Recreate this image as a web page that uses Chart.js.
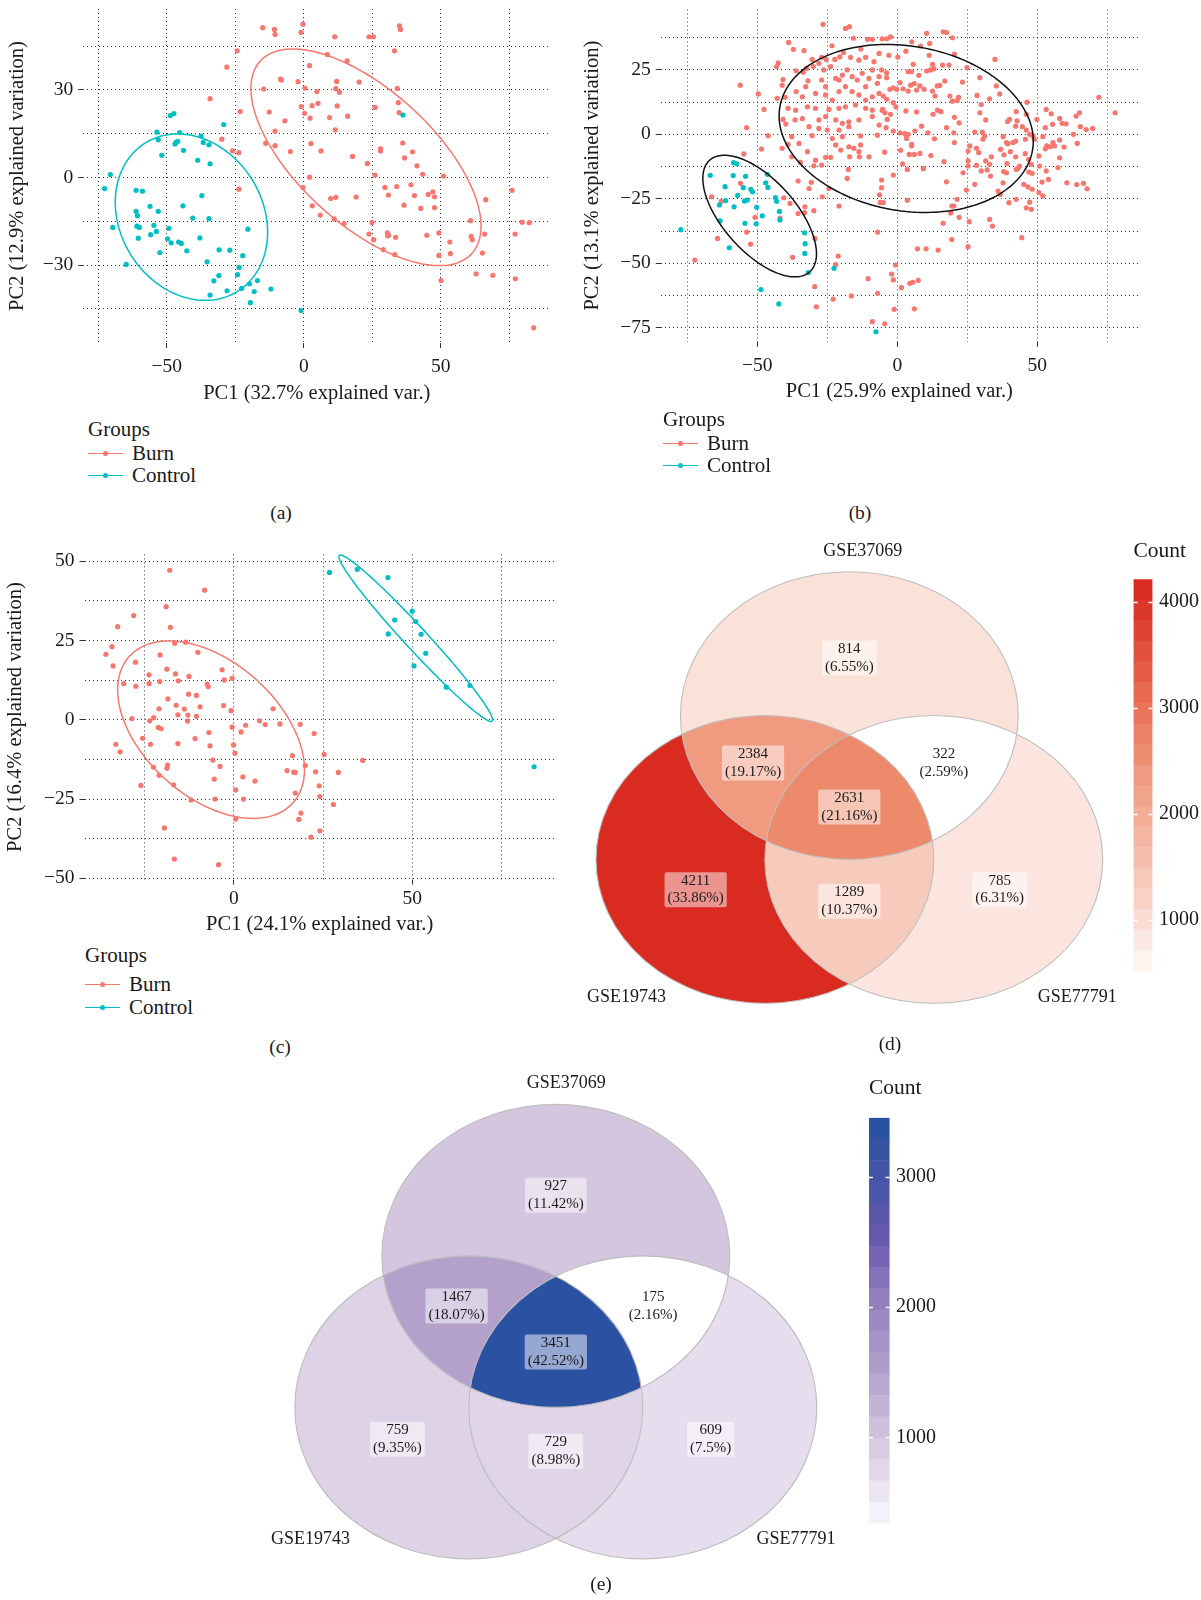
<!DOCTYPE html>
<html>
<head>
<meta charset="utf-8">
<title>PCA plots and Venn diagrams</title>
<script src="https://cdn.jsdelivr.net/npm/chart.js@4.4.0/dist/chart.umd.min.js"></script>
<style>
  body { margin: 0; background: #fff; }
  #page { position: relative; width: 1201px; height: 1600px; font-family: 'Liberation Serif', 'DejaVu Serif', serif; color: #1a1a1a; }
  canvas { position: absolute; }
  .t { position: absolute; white-space: nowrap; line-height: 24px; font-size: 21px; }
  .cap { position: absolute; width: 60px; text-align: center; line-height: 24px; font-size: 19.5px; }
  .key { position: absolute; height: 1px; width: 35px; }
  .key i { position: absolute; left: 15px; top: -2px; width: 5px; height: 5px; border-radius: 50%; background: inherit; }
</style>
</head>
<body>
<div id="page">
  <canvas id="pcaA" width="575" height="410" style="left:0;top:0"></canvas>
  <canvas id="pcaB" width="626" height="408" style="left:575px;top:0"></canvas>
  <canvas id="pcaC" width="575" height="411" style="left:0;top:530px"></canvas>
  <canvas id="vennD" width="560" height="530" style="left:580px;top:530px"></canvas>
  <canvas id="barD" width="91" height="500" style="left:1110px;top:530px"></canvas>
  <canvas id="vennE" width="600" height="540" style="left:260px;top:1060px"></canvas>
  <canvas id="barE" width="120" height="540" style="left:845px;top:1060px"></canvas>

  <div class="t" style="left:88px;top:417px">Groups</div>
  <div class="key" style="left:88px;top:453px;background:#F8766D"><i></i></div>
  <div class="t" style="left:132px;top:441px">Burn</div>
  <div class="key" style="left:88px;top:475px;background:#00BFC4"><i></i></div>
  <div class="t" style="left:132px;top:463px">Control</div>

  <div class="t" style="left:663px;top:407px">Groups</div>
  <div class="key" style="left:663px;top:443px;background:#F8766D"><i></i></div>
  <div class="t" style="left:707px;top:431px">Burn</div>
  <div class="key" style="left:663px;top:465px;background:#00BFC4"><i></i></div>
  <div class="t" style="left:707px;top:453px">Control</div>

  <div class="t" style="left:85px;top:943px">Groups</div>
  <div class="key" style="left:85px;top:984px;background:#F8766D"><i></i></div>
  <div class="t" style="left:129px;top:972px">Burn</div>
  <div class="key" style="left:85px;top:1007px;background:#00BFC4"><i></i></div>
  <div class="t" style="left:129px;top:995px">Control</div>

  <div class="cap" style="left:251px;top:501px">(a)</div>
  <div class="cap" style="left:830px;top:501px">(b)</div>
  <div class="cap" style="left:250px;top:1035px">(c)</div>
  <div class="cap" style="left:860px;top:1032px">(d)</div>
  <div class="cap" style="left:571px;top:1572px">(e)</div>
</div>
<script>
// ---- PCA scores [PC1, PC2] ----
const burnA = [[-15.0,51.3],[-10.7,50.7],[-10.5,49.0],[-0.3,52.5],[-1.0,49.7],[11.3,48.2],[23.8,48.2],[25.4,48.2],[34.9,51.9],[35.3,50.7],[33.1,43.4],[-24.3,43.4],[-28.1,37.8],[2.1,38.3],[8.6,42.1],[15.8,39.9],[-14.6,30.3],[-8.5,33.7],[-8.2,33.4],[-2.1,32.8],[0.4,30.6],[4.8,29.4],[12.0,32.9],[11.7,30.4],[13.0,29.2],[20.2,32.7],[34.1,30.5],[34.5,25.6],[34.8,22.2],[-34.2,27.0],[-23.2,22.6],[-12.6,22.4],[-6.9,19.4],[-0.9,24.3],[3.0,24.6],[0.3,22.0],[2.3,20.3],[5.2,25.4],[12.2,24.5],[9.4,20.5],[16.0,21.0],[26.0,24.0],[11.5,16.3],[-10.5,15.9],[-13.9,11.7],[-10.5,10.9],[-4.9,8.9],[2.6,11.6],[6.3,9.1],[-23.7,8.5],[-26.0,9.1],[-29.9,13.1],[28.0,9.8],[28.0,9.1],[36.1,11.8],[36.8,6.7],[17.8,7.2],[23.2,4.8],[39.7,8.8],[41.3,4.0],[43.4,1.1],[51.0,0.5],[26.0,0.8],[2.1,0.1],[-0.3,-3.4],[-23.7,-4.0],[29.6,-3.4],[33.9,-3.1],[30.9,-6.0],[39.1,-2.5],[40.4,-6.2],[45.4,-5.8],[47.1,-4.9],[47.7,-6.6],[47.7,-10.3],[42.7,-10.6],[36.6,-9.5],[66.4,-7.6],[76.0,-4.4],[9.8,-7.2],[11.7,-6.8],[19.1,-6.7],[3.1,-9.7],[6.0,-12.9],[11.1,-14.2],[14.7,-15.8],[24.9,-15.4],[30.5,-19.0],[31.0,-19.8],[30.6,-20.0],[33.5,-20.5],[23.8,-19.4],[25.5,-21.3],[29.0,-24.7],[33.2,-26.4],[44.9,-19.8],[49.3,-19.0],[53.3,-22.1],[49.3,-26.7],[53.5,-26.1],[60.9,-14.8],[61.1,-20.2],[61.5,-21.3],[66.0,-19.4],[65.2,-25.9],[79.7,-15.3],[82.3,-15.5],[77.1,-19.4],[62.9,-33.0],[69.0,-33.5],[77.2,-34.7],[50.1,-35.3],[83.9,-51.5]];
const controlA = [[-72.7,-3.8],[-70.6,1.0],[-69.7,-17.1],[-64.8,-29.8],[-61.2,-4.4],[-58.9,-4.7],[-61.2,-11.6],[-60.7,-13.1],[-60.9,-16.7],[-60.0,-17.1],[-60.4,-20.8],[-56.1,-9.9],[-55.9,-19.6],[-54.7,-16.4],[-53.8,-18.5],[-53.1,-11.6],[-52.5,-25.7],[-53.6,15.5],[-53.1,12.9],[-51.8,7.6],[-48.7,21.2],[-47.4,21.9],[-45.3,15.4],[-47.0,11.5],[-46.6,12.0],[-46.0,12.4],[-43.9,9.3],[-49.7,-21.0],[-49.2,-17.4],[-48.4,-22.4],[-45.7,-22.1],[-44.7,-22.6],[-44.1,-9.7],[-42.7,-25.1],[-40.5,-13.9],[-38.7,5.9],[-37.5,14.2],[-36.7,12.0],[-34.6,11.2],[-34.2,4.7],[-37.2,-6.2],[-34.6,-14.1],[-37.9,-20.7],[-35.3,-28.9],[-30.9,-24.8],[-27.0,-24.9],[-32.8,-35.4],[-31.0,-33.6],[-34.2,-40.3],[-28.0,-38.8],[-24.2,-33.3],[-23.6,-30.8],[-22.3,-26.8],[-22.7,-38.0],[-20.4,-17.7],[-19.8,-36.4],[-16.9,-35.3],[-18.1,-39.1],[-19.5,-42.9],[-12.0,-38.2],[-29.2,18.1],[36.2,21.4],[-1.0,-45.6]];

const burnB = [[-26.5,42.7],[-18.5,41.1],[-17.1,41.8],[-15.7,37.3],[-10.6,36.9],[-8.9,36.9],[-38.8,35.7],[-37.1,33.0],[-33.3,32.5],[-23.3,34.4],[-19.2,31.8],[-13.0,33.1],[-5.4,37.1],[-30.4,29.1],[-27.0,29.9],[-25.4,29.1],[-22.3,29.1],[-20.5,30.1],[-16.7,29.9],[-13.7,28.8],[-11.3,29.9],[-8.3,28.2],[-6.5,31.4],[-43.1,26.3],[-42.5,27.8],[-36.1,24.7],[-33.6,24.1],[-32.4,25.6],[-30.0,26.3],[-28.0,27.6],[-26.2,25.0],[-23.8,26.3],[-22.0,21.7],[-20.8,21.1],[-19.6,23.0],[-17.9,25.0],[-16.1,22.4],[-14.3,21.1],[-12.5,23.7],[-10.1,21.7],[-8.9,25.0],[-6.5,22.4],[-40.8,21.3],[-41.1,19.1],[-31.9,20.8],[-32.7,18.5],[-27.0,21.1],[-25.6,18.5],[-18.5,18.5],[-11.3,18.5],[-7.1,19.8],[-56.1,19.1],[-49.6,15.7],[-42.9,14.0],[-40.1,14.4],[-36.1,16.6],[-33.9,14.6],[-29.2,15.9],[-25.6,15.3],[-23.2,13.3],[-20.8,16.6],[-16.1,16.6],[-13.7,15.3],[-11.3,13.3],[-8.9,14.6],[-6.5,15.9],[-36.3,9.4],[-32.1,10.7],[-29.2,10.1],[-24.4,9.7],[-20.8,10.1],[-18.5,10.7],[-14.9,11.4],[-11.3,10.1],[-8.9,9.4],[-5.4,9.4],[-39.0,10.1],[-47.6,9.7],[-40.8,5.8],[-39.8,4.0],[-36.5,5.6],[-33.9,6.1],[-28.0,5.6],[-25.6,6.9],[-22.0,5.6],[-19.6,4.3],[-17.3,4.9],[-13.7,5.6],[-8.9,6.9],[-6.5,3.6],[-31.5,3.0],[-28.0,2.3],[-25.0,1.7],[-20.8,1.7],[-17.3,3.0],[-53.8,2.6],[-46.1,-0.5],[-37.7,-0.9],[-30.4,-0.5],[-23.2,-1.6],[-19.6,-0.9],[-13.1,-0.6],[-7.1,-0.3],[-48.5,-5.7],[-54.8,-7.6],[-39.0,-3.9],[-41.1,-5.4],[-35.1,-3.5],[-37.7,-8.7],[-34.6,-10.9],[-32.1,-6.7],[-29.2,-10.0],[-27.0,-11.9],[-25.6,-8.9],[-23.8,-8.9],[-22.0,-4.1],[-20.2,-6.1],[-17.3,-4.8],[-15.5,-5.4],[-13.7,-6.7],[-13.1,-4.1],[-10.1,-8.7],[-29.8,-12.2],[-17.5,-13.6],[-17.9,-17.1],[-13.5,-8.7],[-17.0,-8.7],[-35.4,-18.1],[-30.7,-18.6],[-31.5,-21.0],[-24.4,-21.0],[-26.8,-24.2],[-20.8,-27.8],[-40.5,-24.6],[-38.3,-26.8],[-35.4,-30.7],[-33.0,-28.1],[-33.1,-30.4],[-29.8,-29.6],[-41.9,-32.5],[-50.8,-32.2],[-53.8,-37.9],[-52.4,-42.6],[-64.2,-40.4],[-62.9,-26.0],[-56.0,-19.0],[-66.3,-24.2],[-72.3,-48.8],[-37.4,-47.7],[-29.4,-40.4],[-21.1,-47.2],[-22.0,-50.5],[-29.5,-59.1],[-28.9,-66.9],[-22.9,-63.9],[-16.4,-62.7],[-10.4,-56.0],[-7.0,-61.7],[-6.3,-23.5],[-6.1,-26.4],[-7.0,-37.9],[-5.6,-17.7],[-8.9,-72.7],
  [10.5,39.2],[16.4,39.8],[17.6,39.5],[19.7,37.5],[-3.8,37.1],[-2.4,37.8],[5.2,35.9],[11.6,35.3],[8.3,34.3],[3.1,32.3],[-3.0,30.7],[0.2,30.0],[11.4,30.7],[20.4,31.2],[34.9,29.1],[5.7,27.2],[12.6,27.2],[16.2,26.9],[18.5,26.9],[24.9,25.9],[10.5,24.6],[11.9,25.0],[13.1,25.5],[3.9,24.3],[5.1,24.3],[7.7,22.9],[-5.6,25.0],[-3.8,23.9],[-3.8,22.0],[17.0,20.7],[29.5,22.0],[23.3,20.3],[1.0,20.1],[6.1,19.7],[4.8,19.1],[14.3,18.8],[15.2,19.0],[35.4,18.8],[-2.6,17.5],[-1.4,18.1],[-0.2,17.5],[2.1,17.7],[3.9,16.8],[6.9,17.2],[8.1,18.8],[9.6,17.5],[12.6,16.8],[13.5,14.9],[18.8,14.9],[21.9,14.4],[21.4,13.1],[19.7,12.9],[28.5,15.1],[33.0,13.8],[36.6,15.7],[46.3,12.5],[-5.0,14.9],[-3.8,13.6],[-1.4,12.3],[-0.5,10.7],[-5.2,9.7],[-4.4,8.4],[-2.4,7.8],[-3.6,5.8],[3.1,9.1],[6.9,8.7],[12.8,7.8],[14.4,9.4],[15.6,8.8],[30.0,11.6],[29.5,8.4],[31.6,5.6],[20.4,6.6],[22.1,4.5],[46.1,7.8],[42.5,8.8],[40.1,5.8],[39.4,5.0],[42.8,5.2],[42.3,3.2],[44.7,3.0],[53.2,9.7],[55.0,8.0],[49.9,5.8],[52.9,2.6],[55.5,3.9],[58.0,6.2],[60.3,4.1],[58.9,4.3],[63.9,7.1],[65.1,8.4],[65.4,3.0],[67.5,1.9],[69.8,2.3],[72.0,14.4],[77.8,8.4],
  [-4.0,2.6],[-1.4,1.3],[1.0,0.6],[2.7,0.3],[3.9,0.0],[8.7,3.2],[6.3,1.3],[11.0,0.6],[13.3,-1.7],[17.6,2.6],[20.2,0.6],[27.7,0.9],[30.4,0.9],[31.2,-0.6],[30.6,-1.9],[37.8,-0.9],[39.0,-3.2],[41.3,-3.2],[39.5,-3.6],[42.3,-2.6],[46.1,1.7],[47.3,0.0],[48.5,-0.6],[49.0,-1.9],[45.8,-1.9],[52.0,-0.9],[53.4,-4.5],[55.6,-3.2],[52.9,-5.6],[54.6,-4.8],[56.2,-4.5],[58.0,-2.2],[59.6,-4.9],[62.9,0.0],[64.3,-3.5],[3.3,-0.6],[3.3,-1.6],[5.1,-3.9],[5.1,-4.5],[-4.5,-6.9],[1.2,-6.2],[4.3,-7.8],[6.1,-7.8],[8.1,-7.4],[12.0,-8.2],[20.4,-3.2],[25.9,-4.5],[25.3,-6.5],[28.3,-5.4],[29.1,-7.1],[33.6,-8.7],[31.6,-10.3],[33.0,-11.6],[25.3,-10.3],[25.3,-12.3],[23.5,-14.9],[28.3,-12.0],[30.0,-14.2],[32.1,-13.8],[33.3,-16.2],[36.9,-5.8],[38.1,-7.9],[42.3,-8.7],[40.4,-6.7],[39.2,-11.3],[38.0,-14.4],[39.0,-14.9],[42.5,-13.6],[43.7,-12.3],[43.1,-13.2],[45.7,-7.5],[46.9,-9.7],[47.9,-11.6],[50.6,-8.4],[50.8,-12.3],[47.0,-14.6],[48.2,-15.1],[58.0,-9.1],[57.4,-12.9],[53.2,-14.2],[54.0,-17.5],[51.7,-18.5],[45.2,-19.4],[46.7,-20.4],[48.2,-21.3],[50.6,-22.6],[52.0,-23.9],[37.8,-18.8],[36.0,-22.0],[36.8,-23.3],[42.5,-25.2],[39.9,-26.5],[60.6,-18.8],[64.1,-19.5],[66.5,-19.0],[67.8,-21.1],[1.9,-11.4],[3.6,-13.6],[9.3,-13.3],[-1.4,-15.8],[16.7,-10.6],[17.6,-18.4],[27.7,-19.4],[24.7,-21.6],[21.4,-25.2],[3.6,-25.6],[-5.6,-20.7],[-5.0,-26.5],
  [19.5,-27.8],[20.2,-27.8],[19.1,-30.5],[22.1,-32.2],[16.4,-34.5],[25.7,-33.9],[33.0,-33.0],[34.0,-35.6],[44.5,-40.1],[46.1,-28.5],[47.9,-29.1],[47.3,-26.3],[19.5,-40.8],[25.3,-43.6],[7.2,-44.4],[10.3,-44.4],[14.6,-44.9],[-0.6,-50.7],[-2.0,-54.2],[-1.4,-56.5],[1.5,-59.5],[4.5,-57.8],[5.5,-57.4],[7.5,-56.7],[-1.1,-67.9],[6.1,-67.7],[-4.5,-73.5]];
const controlB = [[-77.3,-37.0],[-66.8,-15.9],[-63.5,-27.4],[-63.3,-33.6],[-61.5,-20.3],[-61.3,-25.7],[-60.0,-44.0],[-58.3,-28.1],[-58.6,-16.0],[-58.5,-11.0],[-57.3,-11.4],[-57.0,-23.7],[-55.0,-20.7],[-54.2,-16.3],[-54.6,-25.9],[-53.6,-25.5],[-54.4,-34.5],[-52.3,-21.3],[-51.7,-22.3],[-50.4,-34.7],[-50.2,-28.3],[-48.2,-31.6],[-47.0,-18.8],[-46.4,-15.5],[-46.2,-20.6],[-43.5,-24.5],[-43.1,-26.0],[-42.1,-29.9],[-41.9,-33.2],[-33.1,-38.2],[-32.9,-42.4],[-33.0,-46.2],[-31.8,-53.6],[-48.7,-60.2],[-42.3,-65.8],[-22.6,-52.0],[-7.6,-76.6]];

const burnC = [[-35.9,20.7],[-34.2,23.1],[-33.9,17.0],[-32.6,29.4],[-30.9,11.4],[-28.1,32.9],[-27.6,18.2],[-27.5,10.6],[-33.1,-7.7],[-31.9,-10.1],[-28.6,0.4],[-25.6,-5.8],[-26.1,-20.7],[-23.8,14.2],[-23.8,11.4],[-23.6,-0.3],[-23.4,-7.7],[-22.5,0.7],[-22.6,-14.9],[-21.0,3.5],[-21.2,-2.4],[-20.4,-2.8],[-20.8,12.1],[-20.7,20.5],[-21.0,-17.5],[-19.0,35.7],[-18.8,16.0],[-18.5,6.6],[-17.8,29.2],[-18.0,47.2],[-16.6,24.2],[-16.4,14.5],[-16.2,4.6],[-15.6,12.3],[-15.7,1.6],[-15.7,-7.5],[-18.6,-14.3],[-18.8,-15.3],[-16.9,-20.5],[-13.9,3.4],[-12.9,1.5],[-13.0,-0.4],[-12.6,13.7],[-12.7,8.1],[-13.5,24.5],[-12.0,-25.3],[-10.9,-5.9],[-10.5,7.7],[-10.5,1.1],[-10.1,21.3],[-9.5,4.1],[-8.2,40.9],[-7.5,11.3],[-7.2,10.5],[-7.0,-4.0],[-6.7,-8.2],[-5.9,-12.7],[-5.5,-18.7],[-5.3,-25.0],[-3.9,-14.7],[-3.3,15.8],[-2.9,4.5],[-2.7,12.6],[-0.5,13.1],[-0.8,2.9],[-0.5,-2.3],[-0.1,-7.9],[0.3,-10.5],[0.5,-22.1],[0.5,-31.3],[2.0,-3.8],[2.5,-18.0],[2.7,-25.0],[3.3,-1.7],[5.9,-19.3],[7.2,-0.3],[8.8,-1.5],[11.0,3.5],[12.9,-1.3],[14.9,-16.0],[16.4,-11.3],[16.8,-16.5],[17.2,-16.6],[17.2,-23.1],[18.2,-31.4],[18.8,-29.4],[18.6,-1.4],[20.0,-14.4],[22.5,-4.3],[22.9,-16.4],[23.9,-20.8],[24.1,-24.2],[24.1,-35.0],[21.6,-37.0],[25.3,-10.9],[27.9,-26.7],[29.3,-16.6],[36.1,-12.8],[-19.5,-34.1],[-16.7,-43.9],[-4.3,-45.7]];
const controlC = [[26.8,46.5],[34.6,47.5],[43.2,44.9],[50.0,34.3],[45.1,31.5],[51.0,31.0],[43.3,27.1],[52.5,27.0],[53.8,21.0],[50.5,17.0],[59.6,10.3],[66.2,10.8],[84.2,-14.8]];

// normal-confidence ellipses per group: centre, half-extents along PC1/PC2, correlation
const ellipseA = [[22.7, 6.9, 42.0, 37.1, -0.636], [-41.0, -13.6, 27.8, 28.5, -0.18]];
const ellipseB = [[3.2, 2.3, 45.4, 32.6, -0.15], [-49.15, -31.7, 20.3, 23.6, -0.62]];
const ellipseC = [[-6.4, -3.1, 26.2, 28.0, -0.45], [51.0, 25.75, 21.55, 26.25, -0.98]];

// axis ticks
const ticksA_x = [-75, -50, -25, 0, 25, 50, 75], majorA_x = [-50, 0, 50];
const ticksA_y = [-45, -30, -15, 0, 15, 30, 45], majorA_y = [-30, 0, 30];
const ticksB_x = [-75, -50, -25, 0, 25, 50, 75], majorB_x = [-50, 0, 50];
const ticksB_y = [-75, -62.5, -50, -37.5, -25, -12.5, 0, 12.5, 25, 37.5], majorB_y = [-75, -50, -25, 0, 25];
const ticksC_x = [-25, 0, 25, 50, 75], majorC_x = [0, 50];
const ticksC_y = [-50, -37.5, -25, -12.5, 0, 12.5, 25, 37.5, 50], majorC_y = [-50, -25, 0, 25, 50];

// ---- Venn counts: A only, B only, C only, A&B, A&C, B&C, A&B&C ----
const vennSets = ['GSE37069', 'GSE19743', 'GSE77791'];
const vennRegions = [[1,0,0],[0,1,0],[0,0,1],[1,1,0],[1,0,1],[0,1,1],[1,1,1]];
const countsD = [814, 4211, 785, 2384, 322, 1289, 2631];
const countsE = [927, 759, 609, 1467, 175, 729, 3451];
const barTicksD = [1000, 2000, 3000, 4000];
const barTicksE = [1000, 2000, 3000];

// ---- layout / style ----
const SERIF = "'Liberation Serif', 'DejaVu Serif', serif";
const INK = '#1a1a1a';
const BURN = '#F8766D', CONTROL = '#00BFC4';
const vennCenters = [[0, 1], [-0.5, 0], [0.5, 0]];
const vennLabelPos = [[0, 1.40], [-0.91, -0.21], [0.89, -0.21], [-0.57, 0.67], [0.56, 0.67], [0, -0.29], [0, 0.365]];
const setPosD = [[0.08, 2.14], [-1.32, -0.96], [1.35, -0.96]];
const setPosE = [[0.06, 2.14], [-1.41, -0.87], [1.38, -0.87]];
const redStops = [[0,'#ffffff'],[0.119,'#fbe5de'],[0.127,'#fbe2d9'],[0.249,'#f7cbbc'],[0.53,'#f09a80'],[0.594,'#ee8a6c'],[0.7,'#ea7157'],[0.85,'#e24f3b'],[1,'#d92b20']];
const purpleStops = [[0,'#ffffff'],[0.1325,'#e6ddee'],[0.23,'#d5c6df'],[0.394,'#b3a1cc'],[0.56,'#9685c1'],[0.72,'#6a5aae'],[0.86,'#4a55a8'],[1,'#2a51a2']];

Chart.defaults.font.family = SERIF;
Chart.defaults.color = INK;

function fmtTick(v) { return v < 0 ? '\u2212' + Math.abs(v) : String(v); }

function hexRgb(h) { const n = parseInt(h.slice(1), 16); return [n >> 16, (n >> 8) & 255, n & 255]; }
function rampColor(stops, t) {
  t = Math.max(0, Math.min(1, t));
  for (let i = 1; i < stops.length; i++) {
    if (t <= stops[i][0]) {
      const f = (t - stops[i - 1][0]) / (stops[i][0] - stops[i - 1][0]);
      const a = hexRgb(stops[i - 1][1]), b = hexRgb(stops[i][1]);
      return 'rgb(' + a.map((v, k) => Math.round(v + (b[k] - v) * f)).join(',') + ')';
    }
  }
  return stops[stops.length - 1][1];
}

// stat_ellipse style outlines
const ellipsePlugin = {
  id: 'ellipses',
  afterDatasetsDraw(chart, args, opts) {
    const { ctx, scales: { x, y } } = chart;
    (opts.items || []).forEach(([cx, cy, a, b, rho], i) => {
      const phi = Math.acos(rho);
      ctx.save();
      ctx.beginPath();
      for (let k = 0; k <= 160; k++) {
        const t = k / 160 * 2 * Math.PI;
        const px = x.getPixelForValue(cx + a * Math.cos(t));
        const py = y.getPixelForValue(cy + b * Math.cos(t + phi));
        k ? ctx.lineTo(px, py) : ctx.moveTo(px, py);
      }
      ctx.closePath();
      ctx.strokeStyle = opts.colors[i];
      ctx.lineWidth = 1.5;
      ctx.stroke();
      ctx.restore();
    });
  }
};

function axis(pos, range, ticks, major, title, size, tickPad, titlePad) {
  return {
    type: 'linear', position: pos, min: range[0], max: range[1],
    afterBuildTicks: s => { s.ticks = ticks.map(v => ({ value: v })); },
    afterFit: s => {
      if (pos === 'bottom') s.height = size; else s.width = size;
      s.paddingTop = s.paddingBottom = s.paddingLeft = s.paddingRight = 0;
    },
    grid: {
      color: 'rgba(0,0,0,0.78)', lineWidth: 1, tickLength: 5, tickWidth: 1,
      tickColor: c => (c.tick && major.includes(c.tick.value)) ? '#333' : 'rgba(0,0,0,0)'
    },
    border: { display: false, dash: [1, 3] },
    ticks: {
      autoSkip: false, maxRotation: 0, padding: tickPad, color: INK,
      font: { family: SERIF, size: 19.5 },
      callback: v => major.includes(v) ? fmtTick(v) : ''
    },
    title: { display: true, text: title, color: INK, font: { family: SERIF, size: 20.5 }, padding: titlePad || { top: 4, bottom: 4 } }
  };
}

function pcaChart(id, o) {
  return new Chart(document.getElementById(id), {
    type: 'scatter',
    data: {
      datasets: [
        { label: 'Burn', data: o.burn.map(([x, y]) => ({ x, y })), backgroundColor: BURN, pointRadius: 2.6, borderWidth: 0, order: 1 },
        { label: 'Control', data: o.control.map(([x, y]) => ({ x, y })), backgroundColor: CONTROL, pointRadius: 2.6, borderWidth: 0, order: 0 }
      ]
    },
    options: {
      responsive: false, animation: false, events: [],
      layout: { padding: o.padding },
      plugins: { legend: { display: false }, tooltip: { enabled: false }, ellipses: { items: o.ellipses, colors: o.ellipseColors } },
      scales: { x: o.x, y: o.y }
    },
    plugins: [ellipsePlugin]
  });
}

pcaChart('pcaA', {
  burn: burnA, control: controlA, ellipses: ellipseA, ellipseColors: [BURN, CONTROL],
  padding: { left: 1.7, right: 24.6, top: 9, bottom: 0 },
  x: axis('bottom', [-80.5, 90], ticksA_x, majorA_x, 'PC1 (32.7% explained var.)', 67, 7),
  y: axis('left', [-56.7, 57.7], ticksA_y, majorA_y, 'PC2 (12.9% explained variation)', 81.5, 5)
});
pcaChart('pcaB', {
  burn: burnB, control: controlB, ellipses: ellipseB, ellipseColors: ['#111', '#111'],
  padding: { left: 1.7, right: 63, top: 9.4, bottom: 0 },
  x: axis('bottom', [-84.5, 86], ticksB_x, majorB_x, 'PC1 (25.9% explained var.)', 66.2, 7),
  y: axis('left', [-80.5, 48.5], ticksB_y, majorB_y, 'PC2 (13.1% explained variation)', 84, 5)
});
pcaChart('pcaC', {
  burn: burnC, control: controlC, ellipses: ellipseC, ellipseColors: [BURN, CONTROL],
  padding: { left: 0, right: 20.2, top: 24.4, bottom: 0 },
  x: axis('bottom', [-41.9, 90], ticksC_x, majorC_x, 'PC1 (24.1% explained var.)', 61.4, 3),
  y: axis('left', [-50.4, 52.2], ticksC_y, majorC_y, 'PC2 (16.4% explained variation)', 84.5, 5, { top: 3, bottom: 4 })
});

// ---- Venn diagrams ----
function fmtPct(v) { return String(Number(v.toFixed(2))); }

const vennPlugin = {
  id: 'venn',
  beforeDatasetsDraw(chart, args, o) {
    const { ctx, scales: { x, y } } = chart;
    const W = chart.width, H = chart.height;
    const path = c => {
      const px = x.getPixelForValue(c[0]), py = y.getPixelForValue(c[1]);
      const rx = x.getPixelForValue(c[0] + 1) - px, ry = py - y.getPixelForValue(c[1] + 1);
      ctx.ellipse(px, py, rx, ry, 0, 0, 2 * Math.PI);
    };
    const lo = Math.min(...o.counts), hi = Math.max(...o.counts);
    vennRegions.forEach((m, i) => {
      ctx.save();
      m.forEach((inside, k) => {
        ctx.beginPath();
        if (!inside) ctx.rect(0, 0, W, H);
        path(vennCenters[k]);
        ctx.clip(inside ? 'nonzero' : 'evenodd');
      });
      ctx.fillStyle = rampColor(o.stops, (o.counts[i] - lo) / (hi - lo));
      ctx.fillRect(0, 0, W, H);
      ctx.restore();
    });
    ctx.save();
    ctx.strokeStyle = '#bdbdbd';
    ctx.lineWidth = 1.1;
    vennCenters.forEach(c => { ctx.beginPath(); path(c); ctx.stroke(); });
    ctx.restore();
  },
  afterDatasetsDraw(chart, args, o) {
    const { ctx, scales: { x, y } } = chart;
    const total = o.counts.reduce((a, b) => a + b, 0);
    const meta = chart.getDatasetMeta(0);
    ctx.save();
    ctx.textAlign = 'center';
    ctx.textBaseline = 'middle';
    ctx.font = '15px ' + SERIF;
    meta.data.forEach((pt, i) => {
      const lines = [String(o.counts[i]), '(' + fmtPct(o.counts[i] / total * 100) + '%)'];
      const w = Math.max(...lines.map(s => ctx.measureText(s).width)) + 6;
      const h = 35;
      ctx.fillStyle = 'rgba(255,255,255,0.5)';
      ctx.beginPath();
      ctx.roundRect(pt.x - w / 2, pt.y - h / 2, w, h, 2);
      ctx.fill();
      ctx.fillStyle = INK;
      ctx.fillText(lines[0], pt.x, pt.y - 8.8);
      ctx.fillText(lines[1], pt.x, pt.y + 8.8);
    });
    ctx.font = '18px ' + SERIF;
    o.setPos.forEach((p, k) => {
      ctx.fillText(vennSets[k], x.getPixelForValue(p[0]), y.getPixelForValue(p[1]));
    });
    ctx.restore();
  }
};

function vennChart(id, counts, stops, setPos, padding) {
  return new Chart(document.getElementById(id), {
    type: 'scatter',
    data: { datasets: [{ data: vennLabelPos.map(([x, y]) => ({ x, y })), pointRadius: 0 }] },
    options: {
      responsive: false, animation: false, events: [],
      layout: { padding },
      plugins: { legend: { display: false }, tooltip: { enabled: false }, venn: { counts, stops, setPos } },
      scales: {
        x: { type: 'linear', min: -1.5, max: 1.5, display: false },
        y: { type: 'linear', min: -1, max: 2, display: false }
      }
    },
    plugins: [vennPlugin]
  });
}

const barTickPlugin = {
  id: 'barTicks',
  afterDatasetsDraw(chart) {
    const { ctx, chartArea: a, scales: { y } } = chart;
    ctx.save();
    ctx.strokeStyle = '#fff';
    ctx.lineWidth = 1.5;
    y.ticks.forEach(t => {
      const py = Math.round(y.getPixelForValue(t.value)) + 0.5;
      ctx.beginPath();
      ctx.moveTo(a.left, py); ctx.lineTo(a.left + 4, py);
      ctx.moveTo(a.right - 4, py); ctx.lineTo(a.right, py);
      ctx.stroke();
    });
    ctx.restore();
  }
};

function colorBar(id, counts, ticks, stops, padding, axisWidth, titlePadBottom) {
  const lo = Math.min(...counts), hi = Math.max(...counts), nb = 20;
  const datasets = [];
  for (let i = 0; i < nb; i++) {
    datasets.push({
      data: [[lo + (hi - lo) * i / nb, lo + (hi - lo) * (i + 1) / nb]],
      backgroundColor: rampColor(stops, i / (nb - 1)),
      borderWidth: 0, barPercentage: 1, categoryPercentage: 1, grouped: false
    });
  }
  return new Chart(document.getElementById(id), {
    type: 'bar',
    data: { labels: [''], datasets },
    options: {
      responsive: false, animation: false, events: [],
      layout: { padding },
      plugins: {
        legend: { display: false }, tooltip: { enabled: false },
        title: { display: true, text: 'Count', align: 'start', color: INK, font: { family: SERIF, size: 21.5, weight: 'normal' }, padding: { top: 0, bottom: titlePadBottom } }
      },
      scales: {
        x: { display: false },
        y: {
          position: 'right', min: lo, max: hi,
          afterBuildTicks: s => { s.ticks = ticks.map(v => ({ value: v })); },
          afterFit: s => { s.width = axisWidth; s.paddingTop = s.paddingBottom = 0; },
          grid: { display: false, drawTicks: false },
          border: { display: false },
          ticks: { padding: 6.5, color: INK, font: { family: SERIF, size: 20 }, callback: v => String(v) }
        }
      }
    },
    plugins: [barTickPlugin]
  });
}

vennChart('vennD', countsD, redStops, setPosD, { left: 16, right: 37.3, top: 41.7, bottom: 56.7 });
colorBar('barD', countsD, barTicksD, redStops, { left: 23.5, right: 0, top: 8, bottom: 38.1 }, 48.5, 15.5);
vennChart('vennE', countsE, purpleStops, setPosE, { left: 34.8, right: 43.2, top: 44.4, bottom: 41.1 });
colorBar('barE', countsE, barTicksE, purpleStops, { left: 24, right: 0, top: 15, bottom: 55 }, 75.4, 17);
</script>
</body>
</html>
